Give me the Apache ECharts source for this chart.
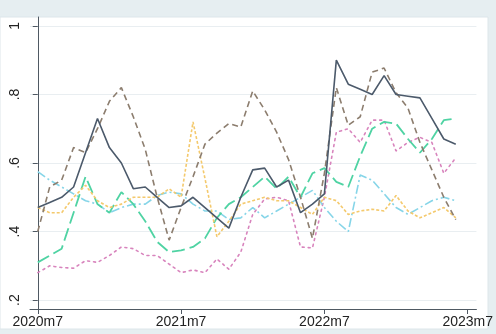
<!DOCTYPE html>
<html>
<head>
<meta charset="utf-8">
<script src="https://cdn.jsdelivr.net/npm/echarts@6/dist/echarts.min.js"></script>
<style>
  html, body { margin: 0; padding: 0; background: #e9f0f2; }
  #chart { width: 496px; height: 334px; }
</style>
</head>
<body>
<div id="chart"></div>
<script>
// Monthly index values, 2020m7 .. 2023m6 (month 0 = 2020m7)
const startYear = 2020;
const startMonth = 7;
const tickMonths = [0, 12, 24, 36];
const yTicks = [0.2, 0.4, 0.6, 0.8, 1];
const yTickLabels = ['.2', '.4', '.6', '.8', '1'];

const seriesNavy = [0.47, 0.485, 0.50, 0.53, 0.63, 0.73, 0.645, 0.60, 0.525, 0.53, 0.50, 0.47,
  0.475, 0.50, 0.47, 0.44, 0.41, 0.50, 0.58, 0.585, 0.53, 0.55, 0.455, 0.48,
  0.51, 0.90, 0.83, 0.815, 0.80, 0.855, 0.80, 0.795, 0.79, 0.73, 0.67, 0.655];
const seriesBrown = [0.40, 0.53, 0.55, 0.645, 0.63, 0.70, 0.78, 0.82, 0.735, 0.64, 0.50, 0.375,
  0.47, 0.56, 0.655, 0.687, 0.715, 0.705, 0.81, 0.755, 0.69, 0.61, 0.50, 0.38,
  0.57, 0.82, 0.71, 0.735, 0.865, 0.877, 0.805, 0.76, 0.66, 0.58, 0.50, 0.435];
const seriesYellow = [0.47, 0.455, 0.455, 0.50, 0.535, 0.49, 0.47, 0.48, 0.50, 0.50, 0.50, 0.525,
  0.50, 0.72, 0.555, 0.385, 0.43, 0.48, 0.49, 0.50, 0.49, 0.49, 0.47, 0.45,
  0.50, 0.49, 0.45, 0.46, 0.465, 0.46, 0.505, 0.46, 0.44, 0.455, 0.47, 0.44];
const seriesGreen = [0.31, 0.33, 0.35, 0.455, 0.56, 0.48, 0.455, 0.515, 0.48, 0.43, 0.37, 0.34,
  0.345, 0.355, 0.38, 0.44, 0.48, 0.50, 0.53, 0.56, 0.525, 0.56, 0.50, 0.57,
  0.585, 0.545, 0.53, 0.62, 0.70, 0.72, 0.715, 0.67, 0.63, 0.67, 0.725, 0.73];
const seriesBlue = [0.575, 0.55, 0.53, 0.51, 0.49, 0.48, 0.455, 0.47, 0.48, 0.48, 0.505, 0.515,
  0.51, 0.48, 0.46, 0.46, 0.435, 0.44, 0.47, 0.44, 0.46, 0.48, 0.50, 0.52,
  0.47, 0.43, 0.40, 0.565, 0.55, 0.51, 0.47, 0.45, 0.47, 0.49, 0.50, 0.49];
const seriesPink = [0.28, 0.30, 0.295, 0.293, 0.315, 0.31, 0.33, 0.355, 0.35, 0.33, 0.33, 0.305,
  0.28, 0.288, 0.28, 0.32, 0.29, 0.34, 0.45, 0.495, 0.50, 0.49, 0.355, 0.352,
  0.50, 0.69, 0.70, 0.66, 0.725, 0.725, 0.635, 0.66, 0.675, 0.66, 0.57, 0.615];

function monthLabel(i) {
  const total = (startMonth - 1) + Math.round(i);
  return (startYear + Math.floor(total / 12)) + 'm' + ((total % 12) + 1);
}

function pairs(arr) {
  return arr.map((v, i) => [i, v]);
}

const lineDefs = [
  { name: 'pink',   data: seriesPink,   color: '#d884bd', width: 1.6, type: [2, 4], cap: 'round' },
  { name: 'blue',   data: seriesBlue,   color: '#86d5e8', width: 1.6, type: [9, 3, 2, 3], cap: 'butt' },
  { name: 'green',  data: seriesGreen,  color: '#4fd3a3', width: 1.8, type: [13, 5], cap: 'butt' },
  { name: 'yellow', data: seriesYellow, color: '#f4c96c', width: 1.6, type: [3, 2], cap: 'butt' },
  { name: 'brown',  data: seriesBrown,  color: '#8c7d6e', width: 1.6, type: [6, 4], cap: 'butt' },
  { name: 'navy',   data: seriesNavy,   color: '#4c5a6b', width: 1.6, type: 'solid', cap: 'butt' }
];

const chart = echarts.init(document.getElementById('chart'), null, { renderer: 'canvas' });

chart.setOption({
  backgroundColor: '#e6eef1',
  animation: false,
  graphic: [{
    type: 'rect',
    z: -10,
    silent: true,
    shape: { x: 0, y: 17, width: 488, height: 312 },
    style: { fill: '#ffffff', stroke: '#dde6ea', lineWidth: 1 }
  }],
  grid: { left: 30, right: 8, top: 17, bottom: 25, containLabel: false },
  xAxis: {
    type: 'value',
    min: -0.65,
    max: 36.73,
    axisLine: { show: true, lineStyle: { color: '#4f5963', width: 1 } },
    axisTick: { show: true, length: 5, lineStyle: { color: '#4f5963' }, customValues: tickMonths },
    axisLabel: {
      customValues: tickMonths,
      formatter: v => monthLabel(v),
      color: '#222',
      fontSize: 14,
      fontFamily: 'Liberation Sans, Arial, sans-serif',
      margin: 6
    },
    splitLine: { show: false }
  },
  yAxis: {
    type: 'value',
    min: 0.174,
    max: 1.026,
    axisLine: { show: true, lineStyle: { color: '#4f5963', width: 1 } },
    axisTick: { show: true, length: 5, lineStyle: { color: '#4f5963' }, customValues: yTicks },
    axisLabel: {
      customValues: yTicks,
      rotate: 90,
      formatter: v => {
        const k = yTicks.findIndex(t => Math.abs(t - v) < 1e-6);
        return k >= 0 ? yTickLabels[k] : '';
      },
      color: '#222',
      fontSize: 14,
      fontFamily: 'Liberation Sans, Arial, sans-serif',
      margin: 8
    },
    splitLine: { show: true, lineStyle: { color: '#e9eef1', width: 1 } }
  },
  series: lineDefs.map(d => ({
    name: d.name,
    type: 'line',
    data: pairs(d.data),
    showSymbol: false,
    symbol: 'none',
    lineStyle: { color: d.color, width: d.width, type: d.type, cap: d.cap },
    emphasis: { disabled: true }
  }))
});
</script>
</body>
</html>
